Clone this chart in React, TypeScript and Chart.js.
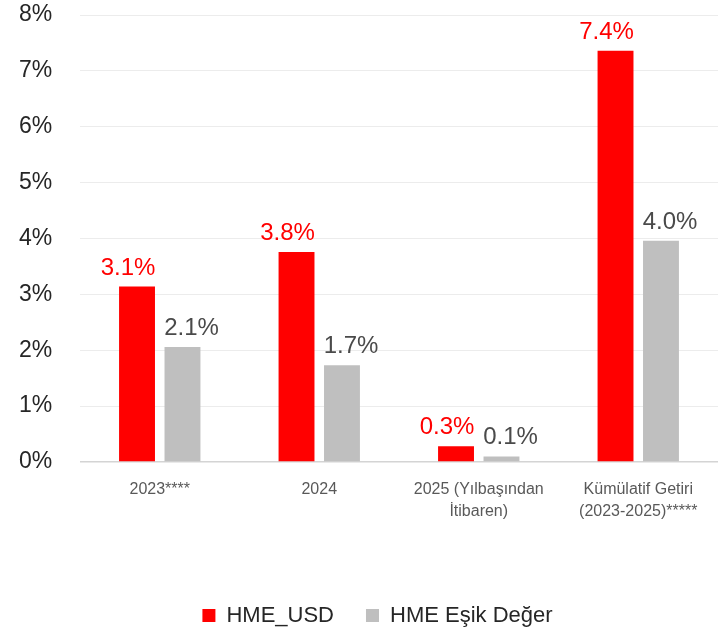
import React, { useEffect, useRef } from "react";
import { Chart, registerables } from "chart.js";

Chart.register(...registerables);

const categories: (string | string[])[] = [
  "2023****",
  "2024",
  ["2025 (Yılbaşından", "İtibaren)"],
  ["Kümülatif Getiri", "(2023-2025)*****"],
];
const hmeUsd = [3.14, 3.76, 0.28, 7.36];
const hmeEsik = [2.06, 1.73, 0.1, 3.96];
const seriesNames = ["HME_USD", "HME Eşik Değer"];
const yTicks = [0, 1, 2, 3, 4, 5, 6, 7, 8];

const FONT = "'Liberation Sans', Arial, Helvetica, sans-serif";
const RED = "#ff0000";
const GRAY = "#bfbfbf";

const dataLabelPlugin = {
  id: "dataLabels",
  afterDatasetsDraw(chart: any) {
    const ctx = chart.ctx;
    ctx.save();
    ctx.font = `24px ${FONT}`;
    ctx.textAlign = "center";
    ctx.textBaseline = "alphabetic";
    chart.data.datasets.forEach((ds: any, di: number) => {
      const meta = chart.getDatasetMeta(di);
      ctx.fillStyle = di === 0 ? "#ff0000" : "#4a4a4a";
      const dx = di === 0 ? -9 : 9;
      meta.data.forEach((bar: any, i: number) => {
        const v = ds.data[i];
        ctx.fillText(v.toFixed(1) + "%", bar.x + dx, bar.y - 12);
      });
    });
    ctx.restore();
  },
};

const legendShiftPlugin = {
  id: "legendShift",
  afterLayout(chart: any) {
    const l = chart.legend;
    if (!l) return;
    l.left += 9;
    l.right += 9;
    l.top += 4.5;
    l.bottom += 4.5;
  },
};

export default function App() {
  const ref = useRef<HTMLCanvasElement>(null);
  useEffect(() => {
    if (!ref.current) return;
    const chart = new Chart(ref.current, {
      type: "bar",
      data: {
        labels: categories,
        datasets: [
          {
            label: seriesNames[0],
            data: hmeUsd,
            backgroundColor: RED,
            borderWidth: 0,
            categoryPercentage: 0.57,
            barPercentage: 0.79,
          },
          {
            label: seriesNames[1],
            data: hmeEsik,
            backgroundColor: GRAY,
            borderWidth: 0,
            categoryPercentage: 0.57,
            barPercentage: 0.79,
          },
        ],
      },
      options: {
        animation: false,
        responsive: true,
        maintainAspectRatio: false,
        layout: { padding: { top: 15, left: 11, right: 0, bottom: 0 } },
        plugins: {
          legend: {
            position: "bottom",
            labels: {
              boxWidth: 13,
              boxHeight: 13,
              padding: 32,
              color: "#262626",
              font: { family: FONT, size: 22 },
            },
          },
          tooltip: { enabled: false },
        },
        scales: {
          x: {
            grid: { display: false, drawTicks: false },
            border: { display: false },
            ticks: {
              color: "#595959",
              font: { family: FONT, size: 16, lineHeight: 1.4 },
              padding: 16,
              maxRotation: 0,
              autoSkip: false,
            },
            afterFit: (scale: any) => {
              scale.height = 106;
            },
          },
          y: {
            min: 0,
            max: 8,
            afterBuildTicks: (scale: any) => {
              scale.ticks = yTicks.map((v) => ({ value: v }));
            },
            grid: {
              drawTicks: false,
              color: (c: any) => (c.tick && c.tick.value === 0 ? "#d4d4d4" : "#ececec"),
              lineWidth: (c: any) => (c.tick && c.tick.value === 0 ? 1.5 : 1),
            },
            border: { display: false },
            ticks: {
              color: "#262626",
              font: { family: FONT, size: 23 },
              padding: 0,
              crossAlign: "far",
              callback: (v: any) => v + "%",
            },
            afterFit: (scale: any) => {
              scale.width = 61;
            },
          },
        },
      },
      plugins: [dataLabelPlugin, legendShiftPlugin],
    });
    return () => chart.destroy();
  }, []);
  return (
    <div style={{ position: "fixed", left: 8, top: 0, width: 710, height: 632 }}>
      <canvas ref={ref} />
    </div>
  );
}
